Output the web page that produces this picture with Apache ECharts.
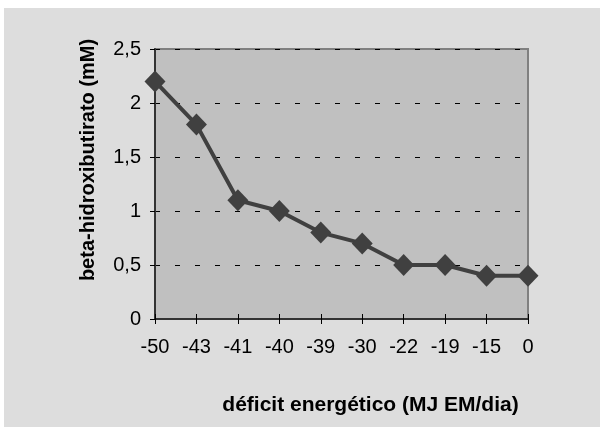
<!DOCTYPE html>
<html>
<head>
<meta charset="utf-8">
<script src="https://cdn.jsdelivr.net/npm/echarts@6/dist/echarts.min.js"></script>
<style>
  html, body { margin: 0; padding: 0; background: #ffffff; }
  #Chart { position: absolute; left: 4px; top: 8px; width: 596px; height: 419px; background: #dddddd; }
</style>
</head>
<body>
<div id="Chart"></div>
<script>
var categories = ['-50', '-43', '-41', '-40', '-39', '-30', '-22', '-19', '-15', '0'];
var bhb = [2.2, 1.8, 1.1, 1.0, 0.8, 0.7, 0.5, 0.5, 0.4, 0.4];
var yTicks = [0, 0.5, 1, 1.5, 2, 2.5];

var dom = document.getElementById('Chart');
var myChart = echarts.init(dom, null, { renderer: 'canvas' });

var option = {
  animation: false,
  textStyle: { fontFamily: 'Liberation Sans, Arial, sans-serif' },
  grid: {
    left: 151,
    right: 72,
    top: 41,
    bottom: 108,
    show: true,
    backgroundColor: '#c0c0c0',
    borderColor: '#808080',
    borderWidth: 2
  },
  xAxis: [
    {
      type: 'category',
      data: categories,
      boundaryGap: false,
      axisLine: { lineStyle: { color: '#333333', width: 2 } },
      axisTick: { show: true, length: 5, lineStyle: { color: '#000000' } },
      axisLabel: { color: '#000000', fontSize: 20, margin: 18 },
      name: 'déficit energético (MJ EM/dia)',
      nameLocation: 'middle',
      nameGap: 76,
      nameTextStyle: { color: '#000000', fontSize: 21, fontWeight: 'bold', padding: [0, 0, 0, 58] },
      splitLine: { show: false }
    },
    {
      type: 'category',
      data: categories,
      boundaryGap: false,
      position: 'bottom',
      axisLine: { show: false },
      axisTick: { show: true, inside: true, length: 5, lineStyle: { color: '#000000' } },
      axisLabel: { show: false },
      splitLine: { show: false }
    }
  ],
  yAxis: {
    type: 'value',
    min: yTicks[0],
    max: yTicks[yTicks.length - 1],
    interval: 0.5,
    axisLine: { show: true, lineStyle: { color: '#333333', width: 2 } },
    axisTick: { show: true, length: 5, lineStyle: { color: '#000000' } },
    axisLabel: {
      color: '#000000',
      fontSize: 20,
      margin: 14,
      formatter: function (v) { return String(v).replace('.', ','); }
    },
    splitLine: { show: true, lineStyle: { color: '#000000', type: [5, 15], width: 1 } },
    name: 'beta-hidroxibutirato (mM)',
    nameLocation: 'middle',
    nameGap: 57,
    nameTextStyle: { color: '#000000', fontSize: 20, fontWeight: 'bold', padding: [0, 0, 0, 48] }
  },
  series: [
    {
      type: 'line',
      data: bhb,
      symbol: 'diamond',
      symbolSize: [21, 22],
      itemStyle: { color: '#404040' },
      lineStyle: { color: '#404040', width: 4 },
      z: 5
    }
  ]
};

myChart.setOption(option);
window.addEventListener('resize', myChart.resize);
</script>
</body>
</html>
